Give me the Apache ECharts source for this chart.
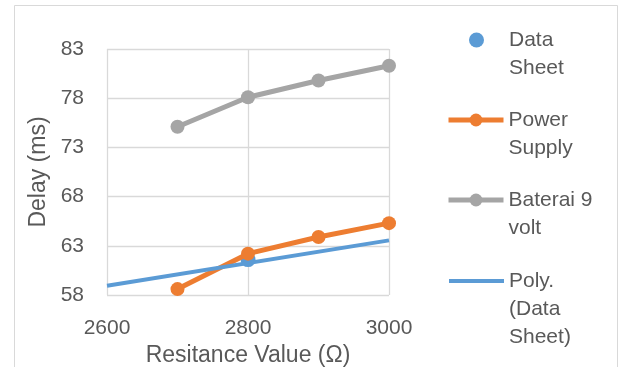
<!DOCTYPE html>
<html>
<head>
<meta charset="utf-8">
<script src="https://cdn.jsdelivr.net/npm/echarts@6/dist/echarts.min.js"></script>
<style>
  html, body { margin: 0; padding: 0; background: #fff; }
  #chart { width: 622px; height: 367px; }
</style>
</head>
<body>
<div id="chart"></div>
<script>
// values
const resistance = [2700, 2800, 2900, 3000];
const powerSupply = [58.6, 62.2, 63.9, 65.3];
const baterai9v = [75.1, 78.1, 79.8, 81.3];
const dataSheetX = [2800];
const dataSheetY = [61.6];
const polyX = [2600, 3000];
const polyY = [58.95, 63.55];

const FONT = "Liberation Sans";
const TEXT = "#595959";

const pairs = (xs, ys) => xs.map((x, i) => [x, ys[i]]);

// legend labels wrap like Excel; blank lines on top keep the icon on the first line
const legendText = {
  "Data Sheet": "\n{g|}Data\n{g|}Sheet",
  "Power Supply": "\nPower\nSupply",
  "Baterai 9 volt": "\nBaterai 9\nvolt",
  "Poly. (Data Sheet)": "\n\nPoly.\n(Data\nSheet)",
};

function legendAt(name, left, top, extra) {
  return Object.assign({
    data: [name],
    orient: "vertical",
    left: left,
    top: top,
    padding: 0,
    itemWidth: 55,
    itemHeight: 16,
    selectedMode: false,
    formatter: (n) => legendText[n],
    lineStyle: { width: 5 },
    textStyle: {
      fontFamily: FONT,
      fontSize: 21,
      color: TEXT,
      lineHeight: 28,
      rich: { g: { width: 20 } },
    },
  }, extra || {});
}

const chart = echarts.init(document.getElementById("chart"));

chart.setOption({
  backgroundColor: "#fff",
  animation: false,
  graphic: [
    {
      type: "rect",
      shape: { x: 14.5, y: 5.5, width: 603, height: 400 },
      style: { fill: "none", stroke: "#d9d9d9", lineWidth: 1 },
      silent: true,
    },
  ],
  legend: [
    legendAt("Data Sheet", 469, -2, { itemWidth: 15, itemHeight: 15 }),
    legendAt("Power Supply", 446, 78),
    legendAt("Baterai 9 volt", 446, 158),
    legendAt("Poly. (Data Sheet)", 447, 211, { itemStyle: { opacity: 0 }, lineStyle: { width: 4 } }),
  ],
  grid: { left: 107, right: 233, top: 49, bottom: 72, outerBoundsMode: "none", containLabel: false },
  xAxis: {
    type: "value",
    min: 2600,
    max: 3000,
    interval: 200,
    name: "Resitance Value (Ω)",
    nameLocation: "middle",
    nameGap: 44,
    nameTextStyle: { fontFamily: FONT, fontSize: 23, color: TEXT },
    axisLine: { show: false },
    axisTick: { show: false },
    axisLabel: { fontFamily: FONT, fontSize: 21, color: TEXT, margin: 23, formatter: (v) => String(v) },
    splitLine: { lineStyle: { color: "#d9d9d9", width: 1.3 } },
  },
  yAxis: {
    type: "value",
    min: 58,
    max: 83,
    interval: 5,
    name: "Delay (ms)",
    nameLocation: "middle",
    nameGap: 57,
    nameTextStyle: { fontFamily: FONT, fontSize: 23, color: TEXT },
    axisLine: { show: false },
    axisTick: { show: false },
    axisLabel: { fontFamily: FONT, fontSize: 21, color: TEXT, margin: 23 },
    splitLine: { lineStyle: { color: "#d9d9d9", width: 1.3 } },
  },
  series: [
    {
      name: "Power Supply",
      type: "line",
      data: pairs(resistance, powerSupply),
      symbol: "circle",
      symbolSize: 14,
      lineStyle: { color: "#ED7D31", width: 5 },
      itemStyle: { color: "#ED7D31" },
    },
    {
      name: "Baterai 9 volt",
      type: "line",
      data: pairs(resistance, baterai9v),
      symbol: "circle",
      symbolSize: 14,
      lineStyle: { color: "#A5A5A5", width: 5 },
      itemStyle: { color: "#A5A5A5" },
    },
    {
      name: "Poly. (Data Sheet)",
      type: "line",
      data: pairs(polyX, polyY),
      symbol: "none",
      lineStyle: { color: "#5B9BD5", width: 4 },
      itemStyle: { color: "#5B9BD5" },
    },
    {
      name: "Data Sheet",
      type: "scatter",
      data: pairs(dataSheetX, dataSheetY),
      symbol: "circle",
      symbolSize: 15,
      itemStyle: { color: "#5B9BD5", opacity: 1 },
    },
  ],
});
</script>
</body>
</html>
